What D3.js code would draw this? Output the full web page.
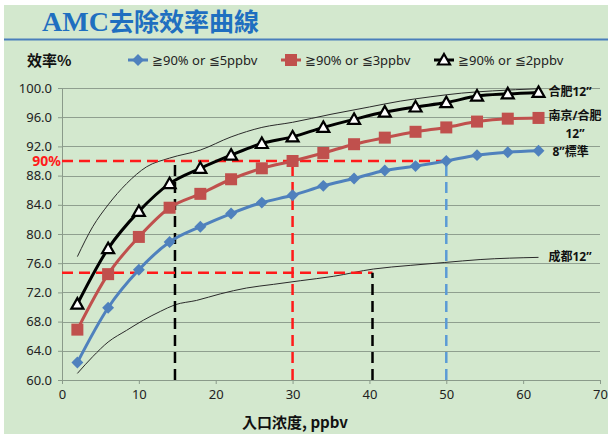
<!DOCTYPE html>
<html><head><meta charset="utf-8">
<script src="https://cdn.jsdelivr.net/npm/d3@7/dist/d3.min.js"></script>
<style>body{margin:0;background:#fff}svg{display:block}</style>
</head><body>
<script>
const xValues = [2,6,10,14,18,22,26,30,34,38,42,46,50,54,58,62];
const blueValues = [62.4,69.9,75.1,78.9,81.0,82.8,84.3,85.3,86.6,87.6,88.7,89.3,90.0,90.8,91.2,91.4];
const redValues = [66.9,74.5,79.6,83.6,85.5,87.5,89.0,90.0,91.1,92.3,93.2,94.0,94.6,95.4,95.8,95.9];
const blackValues = [70.4,78.0,83.1,86.9,89.0,90.8,92.4,93.3,94.6,95.7,96.7,97.4,98.0,98.9,99.2,99.4];
const upperX = [2,4,6,8.4,11,14,18,22,26,30,35,40,44,48,52,56,62];
const upperY = [76.9,81.0,84.0,86.9,89.2,90.4,91.5,93.3,94.6,95.3,96.4,97.4,98.2,98.8,99.3,99.6,99.9];
const lowerX = [2,4,6,8.4,10.6,12.8,14.7,17.5,20.6,24,27.5,31,35.3,40.5,45.3,49.8,54.4,62];
const lowerY = [60.9,63.2,65.2,66.8,68.2,69.4,70.3,70.9,71.8,72.6,73.1,73.6,74.2,75.2,75.7,76.1,76.5,76.8];
const xTicks = [0,10,20,30,40,50,60,70];
const yTicks = [60,64,68,72,76,80,84,88,92,96,100];
const seriesNames = ["≧90% or ≦5ppbv","≧90% or ≦3ppbv","≧90% or ≦2ppbv"];
// guide segments: [x1,y1,x2,y2,kind]
const guides = [
  [0,90,50,90,"red"],[30,60,30,90,"red"],[14.7,60,14.7,90,"black"],
  [0,74.7,40.4,74.7,"red"],[40.4,60,40.4,74.7,"black"],[50,60,50,90,"blue"]
];
const endLabels = [
  {text:"合肥12”", y:99.4},
  {text:"南京/合肥", y:96.1},
  {text:"12”", y:93.7, dx:17},
  {text:"8”標準", y:91.3, dx:4},
  {text:"成都12”", y:76.8}
];

const W=608,H=434;
const svg=d3.select("body").append("svg").attr("width",W).attr("height",H);
svg.append("rect").attr("x",4).attr("y",5).attr("width",W-4).attr("height",H-5).attr("fill","#d3e8ce");

// title
const title=svg.append("text").attr("x",42).attr("y",31).attr("fill","#1f6fc0").attr("font-weight","bold");
title.append("tspan").attr("font-family","Liberation Serif").attr("font-size",28).text("AMC");
title.append("tspan").attr("font-family","Noto Sans CJK TC").attr("font-size",25).text("去除效率曲線");
svg.append("line").attr("x1",4).attr("x2",W).attr("y1",39.5).attr("y2",39.5).attr("stroke","#4a7ebb").attr("stroke-width",2);

const x=d3.scaleLinear().domain([0,70]).range([62,600]);
const y=d3.scaleLinear().domain([60,100]).range([380,88]);

// grid
svg.append("g").selectAll("line").data(yTicks.slice(1)).join("line")
  .attr("x1",x(0)).attr("x2",x(70)).attr("y1",d=>Math.round(y(d))+0.5).attr("y2",d=>Math.round(y(d))+0.5)
  .attr("stroke","#8f9f8f").attr("stroke-width",1);

const fontSans="'Noto Sans','Open Sans',sans-serif";
const yAxis=svg.append("g").attr("transform",`translate(${x(0)},0)`)
  .call(d3.axisLeft(y).tickValues(yTicks).tickFormat(d3.format(".1f")).tickSize(4).tickPadding(6));
const xAxis=svg.append("g").attr("transform",`translate(0,${y(60)})`)
  .call(d3.axisBottom(x).tickValues(xTicks).tickSize(4).tickPadding(6));
[yAxis,xAxis].forEach(a=>{
  a.selectAll("path,line").attr("stroke","#8a9a8a");
  a.selectAll("text").attr("font-family",fontSans).attr("font-size",13).attr("fill","#222");
});

// thin envelopes
const thin=d3.line().x(d=>x(d[0])).y(d=>y(d[1])).curve(d3.curveMonotoneX);
svg.append("path").datum(upperX.map((v,i)=>[v,upperY[i]])).attr("d",thin).attr("fill","none").attr("stroke","#2a2a2a").attr("stroke-width",1);
svg.append("path").datum(lowerX.map((v,i)=>[v,lowerY[i]])).attr("d",thin).attr("fill","none").attr("stroke","#2a2a2a").attr("stroke-width",1);

// guides
const gcol={red:"#ff1a1a",black:"#000",blue:"#5b9bd5"};
svg.append("g").selectAll("line").data(guides).join("line")
  .attr("x1",d=>x(d[0])).attr("y1",d=>y(d[1])).attr("x2",d=>x(d[2])).attr("y2",d=>y(d[3]))
  .attr("stroke",d=>gcol[d[4]]).attr("stroke-width",2.5).attr("stroke-dasharray","11,6");

svg.append("text").attr("x",61).attr("y",y(90)+5).attr("text-anchor","end").attr("fill","#ff1a1a").attr("font-family",fontSans)
  .attr("font-weight","bold").attr("font-size",14).text("90%");

// series
const series=[
  {vals:blueValues,color:"#4f81bd",marker:"diamond"},
  {vals:redValues,color:"#c0504d",marker:"square"},
  {vals:blackValues,color:"#000",marker:"triangle"}
];
const line=d3.line().x(d=>x(d[0])).y(d=>y(d[1])).curve(d3.curveMonotoneX);
function drawMarker(g,type,color){
  if(type==="diamond") g.append("path").attr("d",d3.symbol(d3.symbolDiamond2,90)()).attr("fill",color);
  else if(type==="square") g.append("rect").attr("x",-6).attr("y",-6).attr("width",12).attr("height",12).attr("fill",color);
  else g.append("path").attr("d","M0,-6L6,4.5L-6,4.5Z").attr("fill","#fff").attr("stroke","#000").attr("stroke-width",2.2).attr("stroke-linejoin","miter");
}
series.forEach(s=>{
  const pts=xValues.map((v,i)=>[v,s.vals[i]]);
  svg.append("path").datum(pts).attr("d",line).attr("fill","none").attr("stroke",s.color).attr("stroke-width",3);
});
series.forEach(s=>{
  xValues.forEach((v,i)=>{
    const g=svg.append("g").attr("transform",`translate(${x(v)},${y(s.vals[i])})`);
    drawMarker(g,s.marker,s.color);
  });
});

// end labels
svg.append("g").selectAll("text").data(endLabels).join("text")
  .attr("x",d=>x(62)+10+(d.dx||0)).attr("y",d=>y(d.y)+4)
  .attr("font-family","'Noto Sans','Noto Sans CJK TC',sans-serif").attr("font-weight","bold").attr("font-size",12).attr("fill","#111")
  .text(d=>d.text);

// y title
svg.append("text").attr("x",27).attr("y",66).attr("font-family","'Noto Sans CJK TC',sans-serif").attr("font-weight","bold")
  .attr("font-size",15).attr("fill","#111").text("效率%");
// legend
const legX=[128,281,434];
series.forEach((s,i)=>{
  const g=svg.append("g").attr("transform",`translate(${legX[i]},60)`);
  g.append("line").attr("x1",0).attr("x2",20).attr("stroke",s.color).attr("stroke-width",3);
  const m=g.append("g").attr("transform","translate(10,0)");
  drawMarker(m,s.marker,s.color);
  g.append("text").attr("x",24).attr("y",5).attr("font-family",fontSans).attr("font-size",13).attr("fill","#222").text(seriesNames[i]);
});
// x title
svg.append("text").attr("x",295).attr("y",428).attr("text-anchor","middle").attr("font-family","'Noto Sans CJK TC',sans-serif")
  .attr("font-weight","bold").attr("font-size",15).attr("fill","#111").text("入口浓度, ppbv");
</script>
</body></html>
